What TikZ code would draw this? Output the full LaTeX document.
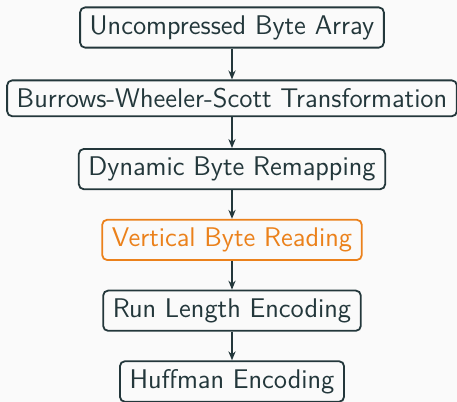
\documentclass[tikz,border=0pt]{standalone}
\usetikzlibrary{arrows.meta}
\definecolor{mDarkTeal}{HTML}{23373B}
\definecolor{mOrange}{HTML}{EB811B}
\definecolor{mBg}{HTML}{FAFAFA}
\tikzset{
  stage/.style={draw=mDarkTeal,text=mDarkTeal,line width=0.9pt,rounded corners=2.5pt,inner xsep=4.8pt,inner ysep=4pt},
  current/.style={stage,draw=mOrange,text=mOrange},
  flow/.style={-{Stealth[length=4.5pt,width=3.6pt]},line width=0.9pt,mDarkTeal}
}
\begin{document}
\begin{tikzpicture}[every node/.style={font=\sffamily\fontsize{13.5}{16}\selectfont}]
  \fill[mBg] (-116pt,13.75pt) rectangle (112.5pt,-187.25pt);
  \useasboundingbox (-116pt,13.75pt) rectangle (112.5pt,-187.25pt);
  \node[stage] (raw) at (0,0) {Uncompressed Byte Array};
  \node[stage] (bws) at (0,-35.4pt) {Burrows-Wheeler-Scott Transformation};
  \node[stage] (remap) at (0,-70.8pt) {Dynamic Byte Remapping};
  \node[current] (vert) at (0,-106.2pt) {Vertical Byte Reading};
  \node[stage] (rle) at (0,-141.6pt) {Run Length Encoding};
  \node[stage] (huff) at (0,-177pt) {Huffman Encoding};
  \draw[flow] (raw) -- (bws);
  \draw[flow] (bws) -- (remap);
  \draw[flow] (remap) -- (vert);
  \draw[flow] (vert) -- (rle);
  \draw[flow] (rle) -- (huff);
\end{tikzpicture}
\end{document}
